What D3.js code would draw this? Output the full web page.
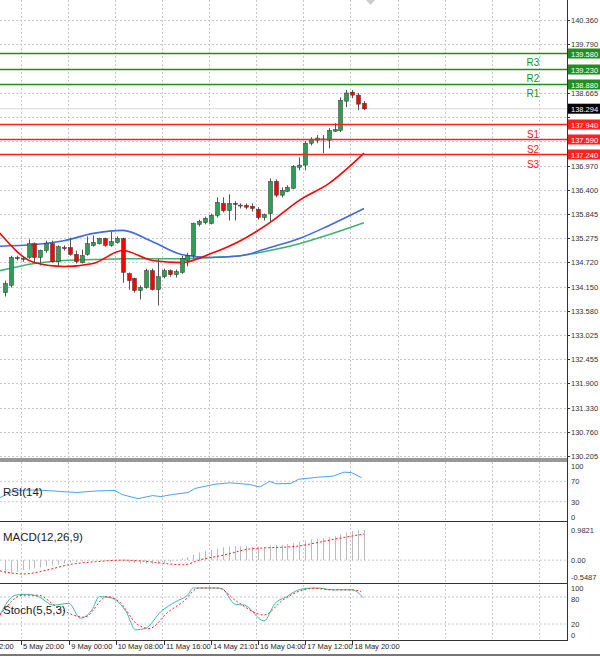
<!DOCTYPE html>
<html><head><meta charset="utf-8">
<script src="https://cdn.jsdelivr.net/npm/d3@7"></script>
<style>body{margin:0;background:#fff}svg{display:block;font-family:"Liberation Sans",Arial,sans-serif}</style>
</head><body><svg width="600" height="657"></svg>
<script>
// candles: [open, high, low, close]
var candles = [
 [134.01,134.29,133.92,134.22],[134.18,134.87,134.13,134.83],[134.80,134.87,134.76,134.83],[134.80,134.85,134.73,134.81],
 [134.83,135.25,134.80,135.15],[135.15,135.18,134.71,134.83],[134.83,135.01,134.64,134.99],[134.99,135.22,134.94,135.15],
 [135.15,135.22,134.71,134.73],[134.73,135.11,134.62,135.08],[135.06,135.11,134.99,135.04],[135.06,135.29,134.87,134.90],
 [134.90,134.99,134.69,134.73],[134.71,135.01,134.69,134.87],[134.90,135.32,134.87,135.15],[135.11,135.34,135.08,135.18],
 [135.15,135.29,135.13,135.27],[135.27,135.29,135.08,135.11],[135.11,135.43,135.08,135.20],[135.18,135.32,135.15,135.27],
 [135.27,135.29,134.24,134.48],[134.45,134.48,134.08,134.29],[134.34,134.36,134.01,134.06],[134.06,134.18,133.85,134.13],
 [134.13,134.57,134.10,134.52],[134.52,134.57,134.06,134.08],[134.08,134.80,133.71,134.38],[134.38,134.57,134.34,134.52],
 [134.52,134.55,134.38,134.43],[134.43,134.55,134.36,134.50],[134.48,134.87,134.45,134.80],[134.76,134.94,134.62,134.87],
 [134.87,135.64,134.80,135.62],[135.60,135.71,135.55,135.67],[135.64,135.78,135.60,135.74],[135.62,135.85,135.60,135.81],
 [135.81,136.23,135.76,136.11],[136.09,136.23,135.88,135.92],[135.92,136.30,135.69,136.09],[136.09,136.14,135.69,136.07],
 [136.04,136.09,135.97,136.05],[136.04,136.09,135.95,136.00],[136.02,136.09,135.90,135.97],[135.95,136.00,135.71,135.76],
 [135.76,135.85,135.69,135.83],[135.85,136.67,135.64,136.60],[136.60,136.65,136.23,136.28],[136.28,136.46,136.23,136.39],
 [136.37,136.51,136.35,136.46],[136.44,136.98,136.42,136.95],[136.93,137.16,136.86,136.98],[136.98,137.54,136.86,137.49],
 [137.49,137.63,137.44,137.58],[137.56,137.68,137.49,137.61],[137.58,137.68,137.26,137.59],[137.56,137.84,137.37,137.79],
 [137.77,137.96,137.75,137.81],[137.79,138.56,137.75,138.49],[138.47,138.73,138.33,138.66],[138.68,138.73,138.54,138.61],
 [138.61,138.66,138.26,138.40],[138.42,138.47,138.26,138.29]
];
var maIdx = [-0.9,5,10,15,20,25,30,35,40,45,50,55,61];
var maRed = [135.40,134.71,134.62,134.69,134.99,134.76,134.71,134.92,135.22,135.64,136.16,136.55,137.26];
var maBlue = [135.09,135.13,135.22,135.39,135.46,135.20,134.90,134.83,134.87,135.06,135.27,135.57,135.97];
var maGreen = [134.52,134.69,134.76,134.78,134.80,134.80,134.80,134.83,134.87,134.99,135.15,135.36,135.64];
var priceTicks = [140.360,139.790,139.230,138.665,138.095,137.540,136.970,136.400,135.845,135.275,134.720,134.150,133.580,133.025,132.455,131.900,131.330,130.760,130.205];
var resist = [["R1",138.880],["R2",139.230],["R3",139.580]];
var support = [["S1",137.940],["S2",137.590],["S3",137.240]];
var lastPrice = 138.294;
var rsi = [[-0.85,38],[1.7,52],[5.6,53],[12.2,48],[15.4,51],[18.7,52],[19.9,44],[22.6,36],[25.1,42],[26.5,40],[28.4,44],[31.1,48],[32.3,56],[35.5,64],[38.2,67],[41.4,64],[43.3,59],[45,70],[46,65],[48.6,66],[49.9,74],[53.1,78],[55.7,80],[57.6,88],[58.9,87],[60.6,77]];
var macdHist = [-0.45,-0.42,-0.38,-0.33,-0.3,-0.27,-0.24,-0.2,-0.17,-0.14,-0.11,-0.08,-0.06,-0.04,-0.02,0.0,0.01,0.01,0.0,0.0,
 -0.04,-0.08,-0.1,-0.12,-0.12,-0.13,-0.12,-0.1,-0.06,-0.02,0.05,0.1,0.18,0.25,0.3,0.34,0.38,0.42,0.44,0.45,
 0.45,0.45,0.44,0.43,0.43,0.48,0.5,0.5,0.52,0.56,0.6,0.64,0.68,0.7,0.72,0.75,0.78,0.85,0.9,0.95,0.97,0.98];
var macdSignal = [[-0.85,-0.35],[3.05,-0.45],[7.6,-0.3],[10.8,-0.15],[15.4,-0.05],[20,0],[22.6,-0.02],[30.4,-0.15],[33,0],[38,0.2],[41.4,0.36],[49.9,0.46],[53,0.57],[57.6,0.74],[61,0.85]];
var stochMain = [[-0.85,41],[1.75,84],[3.7,86],[5.65,81],[8.25,62],[10.85,66],[12.8,33],[14.75,51],[16.05,81],[18,78],[20.6,47],[22.2,7],[23.85,10],[26.45,47],[29.05,70],[31,84],[32,100],[35.5,100],[36.8,99],[39.1,64],[40.7,62],[44,27],[45.9,66],[47.9,81],[49.2,92],[51.1,99],[53.1,100],[55.7,96],[58.9,96],[60.9,78]];
var stochSig = [[-0.85,40],[3.05,84],[5.65,84],[8.9,57],[13.45,35],[17.35,81],[19.3,71],[22.5,19],[24.5,10],[27.75,47],[30.3,70],[32.9,100],[36.2,100],[39.4,70],[44,40],[47.2,73],[49.8,92],[52.4,99],[55.7,96],[58.9,96],[60.5,92]];
var timeLabels = ["5 May 20:00","9 May 00:00","10 May 08:00","11 May 16:00","14 May 21:01","16 May 04:00","17 May 12:00","18 May 20:00"];
var timeIdx = [2.7,10.9,18.8,27,35,43,51,59];

var svg = d3.select('svg');
var AX = 567;
var x = d3.scaleLinear().domain([0,61]).range([5,364]);
var y = d3.scaleLinear().domain([130.205,140.360]).range([456,20]);
var yR = d3.scaleLinear().domain([0,100]).range([517,466]);
var yM = d3.scaleLinear().domain([-0.5487,0.9821]).range([577,530]);
var yS = d3.scaleLinear().domain([0,100]).range([633,588]);
var grid = '#c8c8c8';

// grid verticals
var vg = d3.range(-1,12).map(function(k){return 2.7 + 8*k;});
[[0,458],[462,521],[524,582],[585,638]].forEach(function(p){
  svg.selectAll(null).data(vg).enter().append('line')
    .attr('x1',function(d){return Math.round(x(d))+0.5}).attr('x2',function(d){return Math.round(x(d))+0.5})
    .attr('y1',p[0]).attr('y2',p[1]).attr('stroke',grid).attr('stroke-dasharray','2,2');
});
// price grid + labels (labels hidden where a level box sits)
var boxed = resist.concat(support).map(function(l){return l[1]}).concat([lastPrice]);
var shownTicks = priceTicks.filter(function(t){return boxed.every(function(b){return Math.abs(y(b)-y(t))>9;});});
svg.selectAll(null).data(priceTicks).enter().append('line')
  .attr('x1',0).attr('x2',AX).attr('y1',function(d){return Math.round(y(d))+0.5}).attr('y2',function(d){return Math.round(y(d))+0.5})
  .attr('stroke',grid).attr('stroke-dasharray','2,2');
svg.selectAll(null).data(shownTicks).enter().append('text')
  .attr('x',571).attr('y',function(d){return y(d)+3}).attr('font-size',7.5).attr('fill','#333')
  .text(function(d){return d.toFixed(3)});
svg.selectAll(null).data(priceTicks).enter().append('line')
  .attr('x1',AX).attr('x2',AX+3).attr('y1',function(d){return Math.round(y(d))+0.5}).attr('y2',function(d){return Math.round(y(d))+0.5}).attr('stroke','#333');

// moving averages
function maLine(vals){ return d3.line().curve(d3.curveMonotoneX).x(function(d,i){return x(maIdx[i])}).y(function(d){return y(d)})(vals); }
[[maGreen,'#3cb371'],[maBlue,'#4169e1'],[maRed,'#ff0000']].forEach(function(m){
  svg.append('path').attr('d',maLine(m[0])).attr('fill','none').attr('stroke',m[1]).attr('stroke-width',1.6);
});

// last price line
svg.append('line').attr('x1',0).attr('x2',AX).attr('y1',y(lastPrice)).attr('y2',y(lastPrice)).attr('stroke','#d8d8d8');

// candles
var cg = svg.selectAll(null).data(candles).enter().append('g');
cg.append('line').attr('x1',function(d,i){return Math.round(x(i))+0.5}).attr('x2',function(d,i){return Math.round(x(i))+0.5})
  .attr('y1',function(d){return y(d[1])}).attr('y2',function(d){return y(d[2])}).attr('stroke','#555');
cg.append('rect').attr('x',function(d,i){return Math.round(x(i))-1.5}).attr('width',4)
  .attr('y',function(d){return y(Math.max(d[0],d[3]))})
  .attr('height',function(d){return Math.max(1,Math.abs(y(d[0])-y(d[3])))})
  .attr('fill',function(d){return d[3]>=d[0]?'#2e9e55':'#ff0000'}).attr('stroke','#333').attr('stroke-width',0.5);

// levels
function level(arr,col,below){
  arr.forEach(function(l){
    var yy = Math.round(y(l[1]))+0.5;
    svg.append('line').attr('x1',0).attr('x2',AX).attr('y1',yy).attr('y2',yy).attr('stroke',col).attr('stroke-width',1.6);
    svg.append('text').attr('x',533).attr('y',yy+below).attr('text-anchor','middle').attr('font-size',10).attr('fill',col).text(l[0]);
    svg.append('rect').attr('x',AX+1).attr('y',yy-5).attr('width',32).attr('height',10).attr('fill',col);
    svg.append('text').attr('x',571).attr('y',yy+3).attr('font-size',7.5).attr('fill','#fff').text(l[1].toFixed(3));
  });
}
level(resist,'#1f8f1f',12);
level(support,'#ff2020',13);
svg.append('rect').attr('x',AX+1).attr('y',y(lastPrice)-5).attr('width',32).attr('height',10).attr('fill','#000');
svg.append('text').attr('x',571).attr('y',y(lastPrice)+3).attr('font-size',7.5).attr('fill','#fff').text(lastPrice.toFixed(3));

// RSI
[30,70].forEach(function(v){svg.append('line').attr('x1',0).attr('x2',AX).attr('y1',yR(v)).attr('y2',yR(v)).attr('stroke',grid).attr('stroke-dasharray','2,2');});
svg.append('path').attr('d',d3.line().x(function(d){return x(d[0])}).y(function(d){return yR(d[1])})(rsi))
  .attr('fill','none').attr('stroke','#4aa3f0').attr('stroke-width',1);
[100,70,30,0].forEach(function(v){svg.append('text').attr('x',571).attr('y',yR(v)+3).attr('font-size',7.5).attr('fill','#333').text(v);});
svg.append('text').attr('x',3).attr('y',496).attr('font-size',11.5).attr('fill','#222').text('RSI(14)');

// MACD
svg.append('line').attr('x1',0).attr('x2',AX).attr('y1',yM(0)).attr('y2',yM(0)).attr('stroke',grid).attr('stroke-dasharray','2,2');
svg.selectAll(null).data(macdHist).enter().append('line')
  .attr('x1',function(d,i){return Math.round(x(i))+0.5}).attr('x2',function(d,i){return Math.round(x(i))+0.5})
  .attr('y1',yM(0)).attr('y2',function(d){return yM(d)}).attr('stroke','#bbb');
svg.append('path').attr('d',d3.line().curve(d3.curveMonotoneX).x(function(d){return x(d[0])}).y(function(d){return yM(d[1])})(macdSignal))
  .attr('fill','none').attr('stroke','#ff2020').attr('stroke-dasharray','2,2');
[[0.9821,'0.9821'],[0,'0.00'],[-0.5487,'-0.5487']].forEach(function(v){svg.append('text').attr('x',571).attr('y',yM(v[0])+3).attr('font-size',7.5).attr('fill','#333').text(v[1]);});
svg.append('text').attr('x',3).attr('y',541).attr('font-size',11.5).attr('fill','#222').text('MACD(12,26,9)');

// Stoch
[20,80].forEach(function(v){svg.append('line').attr('x1',0).attr('x2',AX).attr('y1',yS(v)).attr('y2',yS(v)).attr('stroke',grid).attr('stroke-dasharray','2,2');});
svg.append('path').attr('d',d3.line().curve(d3.curveMonotoneX).x(function(d){return x(d[0])}).y(function(d){return yS(d[1])})(stochMain))
  .attr('fill','none').attr('stroke','#40b8b0').attr('stroke-width',1);
svg.append('path').attr('d',d3.line().curve(d3.curveMonotoneX).x(function(d){return x(d[0])}).y(function(d){return yS(d[1])})(stochSig))
  .attr('fill','none').attr('stroke','#ff2020').attr('stroke-dasharray','2,2');
[[100,0],[80,2],[20,0],[0,2]].forEach(function(v){svg.append('text').attr('x',571).attr('y',yS(v[0])+3+v[1]).attr('font-size',7.5).attr('fill','#333').text(v[0]);});
svg.append('text').attr('x',3).attr('y',614).attr('font-size',11.5).attr('fill','#222').text('Stoch(5,5,3)');

// frames
svg.append('line').attr('x1',AX+0.5).attr('x2',AX+0.5).attr('y1',0).attr('y2',641).attr('stroke','#333');
[459,461,521.5,583.5].forEach(function(v){svg.append('line').attr('x1',0).attr('x2',AX).attr('y1',v).attr('y2',v).attr('stroke','#333').attr('stroke-width',1.2);});
svg.append('line').attr('x1',0).attr('x2',AX).attr('y1',640.5).attr('y2',640.5).attr('stroke','#333');
svg.append('line').attr('x1',0).attr('x2',600).attr('y1',655).attr('y2',655).attr('stroke','#777').attr('stroke-width',2);
svg.append('path').attr('d','M366,0 L375,0 L370.5,5 Z').attr('fill','#ccc');

// time axis
svg.selectAll(null).data(timeIdx).enter().append('line')
  .attr('x1',function(d){return Math.round(x(d))+0.5}).attr('x2',function(d){return Math.round(x(d))+0.5})
  .attr('y1',641).attr('y2',645).attr('stroke','#333');
svg.selectAll(null).data(timeLabels).enter().append('text')
  .attr('x',function(d,i){return x(timeIdx[i])+2}).attr('y',649).attr('font-size',7.5).attr('fill','#222').text(function(d){return d});
svg.append('text').attr('x',-1).attr('y',649).attr('font-size',7.5).attr('fill','#222').text('2:00');
</script></body></html>
